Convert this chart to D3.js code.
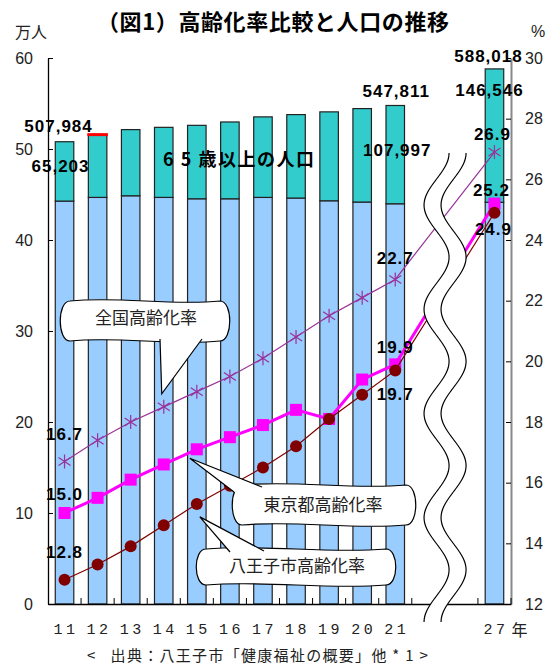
<!DOCTYPE html>
<html>
<head>
<meta charset="utf-8">
<script src="https://cdn.jsdelivr.net/npm/d3@7"></script>
<style>
  body { margin: 0; background: #fff; }
  svg { display: block; }
</style>
</head>
<body>
<svg id="chart" width="552" height="666"></svg>
<script>
// Fiscal years (Heisei) shown on the category axis; 22–26 are skipped by the break mark.
const years = ["11", "12", "13", "14", "15", "16", "17", "18", "19", "20", "21", "27"];
const gapSlots = ["gap1", "gap2"];

// Population of Hachioji (persons): total and aged 65+.
const totalPop   = [507984, 515800, 521300, 523800, 526000, 529700, 535300, 537800, 540800, 544400, 547811, 588018];
const elderlyPop = [65203, 69000, 72700, 77000, 80700, 84400, 88500, 91700, 97700, 102700, 107997, 146546];

// Ageing rates (%).
const nationalRate = [16.7, 17.4, 18.0, 18.5, 19.0, 19.5, 20.1, 20.8, 21.5, 22.1, 22.7, 26.9];
const tokyoRate    = [15.0, 15.5, 16.1, 16.6, 17.1, 17.5, 17.9, 18.4, 18.1, 19.4, 19.9, 25.2];
const hachiojiRate = [12.8, 13.3, 13.9, 14.6, 15.3, 15.9, 16.5, 17.2, 18.1, 18.9, 19.7, 24.9];

// Axis ticks.
const leftTicks  = [0, 10, 20, 30, 40, 50, 60];
const rightTicks = [12, 14, 16, 18, 20, 22, 24, 26, 28, 30];

const LATIN = "'Liberation Sans', Arial, sans-serif";
const CJK = "'Noto Sans CJK JP', 'Noto Sans', sans-serif";

const svg = d3.select("#chart");

const rows = years.map((yr, i) => ({
  yr,
  total: totalPop[i] / 1e4,
  elderly: elderlyPop[i] / 1e4,
  nat: nationalRate[i],
  tok: tokyoRate[i],
  hach: hachiojiRate[i],
  i
}));

const slots = [...years.slice(0, 11), ...gapSlots, years[11]];
const x = d3.scaleBand().domain(slots).range([48, 511]).paddingInner(0.44).paddingOuter(0.22);
const yL = d3.scaleLinear().domain([0, 60]).range([604, 58]);
const yR = d3.scaleLinear().domain([12, 30]).range([604, 58]);
const cx = yr => x(yr) + x.bandwidth() / 2;

// ---- stacked population bars ----
const gBars = svg.append("g");
gBars.selectAll("rect.under").data(rows).join("rect")
  .attr("class", "under")
  .attr("x", d => x(d.yr)).attr("width", x.bandwidth())
  .attr("y", d => yL(d.total - d.elderly))
  .attr("height", d => yL(0) - yL(d.total - d.elderly))
  .attr("fill", "#99CCFF").attr("stroke", "#222").attr("stroke-width", 1.2);
gBars.selectAll("rect.over").data(rows).join("rect")
  .attr("class", "over")
  .attr("x", d => x(d.yr)).attr("width", x.bandwidth())
  .attr("y", d => yL(d.total))
  .attr("height", d => yL(d.total - d.elderly) - yL(d.total))
  .attr("fill", "#33CCCC").attr("stroke", "#222").attr("stroke-width", 1.2);

// red accent on top of the second bar
gBars.append("line")
  .attr("x1", x(years[1]) - 1).attr("x2", x(years[1]) + x.bandwidth() + 1)
  .attr("y1", yL(rows[1].total)).attr("y2", yL(rows[1].total))
  .attr("stroke", "#FF0000").attr("stroke-width", 3);

// ---- axes ----
const axL = svg.append("g").attr("transform", "translate(48,0)")
  .call(d3.axisLeft(yL).tickValues(leftTicks).tickSize(-5).tickSizeOuter(0).tickPadding(15));
axL.select(".domain").attr("stroke", "#000").attr("stroke-width", 1.3);
axL.selectAll(".tick line").attr("stroke", "#000");
axL.selectAll("text").attr("font-family", LATIN).attr("font-size", 16).attr("fill", "#222");

const axR = svg.append("g").attr("transform", "translate(511,0)")
  .call(d3.axisRight(yR).tickValues(rightTicks).tickSize(-5).tickSizeOuter(0).tickPadding(14));
axR.select(".domain").attr("stroke", "#888").attr("stroke-width", 2);
axR.selectAll(".tick line").attr("stroke", "#000");
axR.selectAll("text").attr("font-family", LATIN).attr("font-size", 16).attr("fill", "#222");

// category axis: baseline, boundary ticks, year labels
const axB = svg.append("g").attr("transform", `translate(0,${yL(0)})`)
  .call(d3.axisBottom(x).tickValues(years).tickSize(0).tickPadding(19));
axB.select(".domain").attr("stroke", "#000").attr("stroke-width", 1.6);
axB.selectAll("text").attr("font-family", "'Liberation Mono', monospace")
  .attr("font-size", 15).attr("letter-spacing", 3.5).attr("dx", 1.5).attr("fill", "#222");
const bounds = d3.range(1, slots.length + 1).map(k => x.range()[0] + k * x.step());
svg.append("g").selectAll("line").data(bounds).join("line")
  .attr("x1", d => d).attr("x2", d => d)
  .attr("y1", yL(0)).attr("y2", yL(0) - 6)
  .attr("stroke", "#000").attr("stroke-width", 1);

svg.append("text").attr("x", cx("27") + 17).attr("y", yL(0) + 25)
  .attr("dominant-baseline", "central")
  .attr("font-family", CJK).attr("font-size", 16).attr("fill", "#222").text("年");

// ---- rate lines ----
const gLines = svg.append("g");
const mkLine = key => d3.line().x(d => cx(d.yr)).y(d => yR(d[key]));

gLines.append("path").datum(rows).attr("d", mkLine("nat"))
  .attr("fill", "none").attr("stroke", "#993399").attr("stroke-width", 1.2);
gLines.selectAll("path.star").data(rows).join("path")
  .attr("class", "star")
  .attr("transform", d => `translate(${cx(d.yr)},${yR(d.nat)})`)
  .attr("d", "M0,-7V7M-6,-4L6,4M-6,4L6,-4")
  .attr("stroke", "#993399").attr("stroke-width", 1.2).attr("fill", "none");

gLines.append("path").datum(rows).attr("d", mkLine("tok"))
  .attr("fill", "none").attr("stroke", "#FF00FF").attr("stroke-width", 3);
gLines.selectAll("rect.sq").data(rows).join("rect")
  .attr("class", "sq")
  .attr("x", d => cx(d.yr) - 6).attr("y", d => yR(d.tok) - 6)
  .attr("width", 12).attr("height", 12).attr("fill", "#FF00FF");

gLines.append("path").datum(rows).attr("d", mkLine("hach"))
  .attr("fill", "none").attr("stroke", "#800000").attr("stroke-width", 1.2);
gLines.selectAll("circle.dot").data(rows).join("circle")
  .attr("class", "dot")
  .attr("cx", d => cx(d.yr)).attr("cy", d => yR(d.hach)).attr("r", 6)
  .attr("fill", "#800000");

// ---- axis break (double wave) ----
const waveTop = 153, waveBot = 622, halfPeriod = 52.1, amp = 12.5;
const leftMid = (x.range()[0] + 12 * x.step()) - 8.3;
const gapW = 17;
const ys = d3.range(waveTop, waveBot + 0.1, 1);
const waveX = (mid, y) => mid + amp * Math.cos(Math.PI * (y - waveTop) / halfPeriod);
const leftPts = ys.map(y => [waveX(leftMid, y), y]);
const rightPts = ys.map(y => [waveX(leftMid + gapW, y), y]);
const gWave = svg.append("g");
gWave.append("path")
  .attr("d", d3.line()([...leftPts, ...rightPts.slice().reverse()]) + "Z")
  .attr("fill", "#fff").attr("stroke", "none");
[leftPts, rightPts].forEach(pts => {
  gWave.append("path").attr("d", d3.line().curve(d3.curveBasis)(pts))
    .attr("fill", "none").attr("stroke", "#000").attr("stroke-width", 1.2);
});

// ---- callouts ----
function bubblePath(x0, y0, x1, y1) {
  const w = x1 - x0, r = 10;
  return `M${x0 + r},${y0} C${x0 + w * 0.35},${y0 - 5} ${x0 + w * 0.65},${y0 + 5} ${x1 - r},${y0}` +
    ` C${x1 + 3},${y0} ${x1 + 3},${y1} ${x1 - r},${y1}` +
    ` C${x0 + w * 0.65},${y1 + 5} ${x0 + w * 0.35},${y1 - 5} ${x0 + r},${y1}` +
    ` C${x0 - 3},${y1} ${x0 - 3},${y0} ${x0 + r},${y0}Z`;
}
function callout(box, base1, base2, tip, label, tx, ty) {
  const g = svg.append("g");
  g.append("path").attr("d", bubblePath(...box))
    .attr("fill", "#fff").attr("stroke", "#000").attr("stroke-width", 1.2);
  g.append("path").attr("d", `M${base1[0]},${base1[1]}L${tip[0]},${tip[1]}L${base2[0]},${base2[1]}`)
    .attr("fill", "#fff").attr("stroke", "#000").attr("stroke-width", 1.2);
  g.append("text").attr("x", tx).attr("y", ty)
    .attr("text-anchor", "middle").attr("dominant-baseline", "central")
    .attr("font-family", CJK).attr("font-size", 17).attr("fill", "#222").text(label);
}
const p14 = rows[3], p15 = rows[4];
callout([60, 301, 230, 341], [160, 339], [202, 339],
  [cx(p14.yr) - 2, yR(p14.nat) - 13], "全国高齢化率", 146, 316);
callout([232, 485, 416, 525], [234, 492], [262, 487],
  [cx(p15.yr) - 7, yR(p15.tok) + 9], "東京都高齢化率", 323, 503);
callout([196, 549, 396, 585], [230, 552], [264, 551],
  [cx(p15.yr) + 3, yR(p15.hach) + 13], "八王子市高齢化率", 297, 564);

// ---- value labels ----
const fmt = d3.format(",");
const gLab = svg.append("g")
  .attr("font-family", LATIN).attr("font-weight", "bold").attr("font-size", 17)
  .attr("letter-spacing", 1).attr("fill", "#000")
  .attr("text-anchor", "middle").attr("dominant-baseline", "central");
const lab = (px, py, t) => gLab.append("text").attr("x", px).attr("y", py).text(t);

const r0 = rows[0], r10 = rows[10], r11 = rows[11];
lab(cx(r0.yr) - 6, yL(r0.total) - 15, fmt(totalPop[0]));
lab(cx(r0.yr) - 4, yL(r0.total) + 25, fmt(elderlyPop[0]));
lab(cx(r10.yr) + 1, yL(r10.total) - 14, fmt(totalPop[10]));
lab(cx(r10.yr) + 2, yL(r10.total) + 45, fmt(elderlyPop[10]));
lab(cx(r11.yr) - 6, yL(r11.total) - 12, fmt(totalPop[11]));
lab(cx(r11.yr) - 5, yL(r11.total) + 22, fmt(elderlyPop[11]));

const f1 = d3.format(".1f");
lab(cx(r0.yr), yR(r0.nat) - 27, f1(r0.nat));
lab(cx(r0.yr), yR(r0.tok) - 19, f1(r0.tok));
lab(cx(r0.yr), yR(r0.hach) - 27, f1(r0.hach));
lab(cx(r10.yr), yR(r10.nat) - 21, f1(r10.nat));
lab(cx(r10.yr), yR(r10.tok) - 17, f1(r10.tok));
lab(cx(r10.yr), yR(r10.hach) + 24, f1(r10.hach));
lab(cx(r11.yr) - 2, yR(r11.nat) - 18, f1(r11.nat));
lab(cx(r11.yr) - 3, yR(r11.tok) - 13, f1(r11.tok));
lab(cx(r11.yr) - 1, yR(r11.hach) + 17, f1(r11.hach));

// bar caption
svg.append("text").attr("x", 163).attr("y", 158)
  .attr("dominant-baseline", "central")
  .attr("font-family", CJK).attr("font-weight", "bold").attr("font-size", 18)
  .attr("letter-spacing", 1.5).attr("fill", "#000")
  .text("6 5 歳以上の人口");

// ---- titles and units ----
svg.append("text").attr("x", 97).attr("y", 20)
  .attr("dominant-baseline", "central")
  .attr("font-family", CJK).attr("font-weight", "bold").attr("font-size", 22)
  .attr("letter-spacing", 0.6).attr("fill", "#000")
  .text("（図1）高齢化率比較と人口の推移");

svg.append("text").attr("x", 15).attr("y", 31).attr("dominant-baseline", "central")
  .attr("font-family", CJK).attr("font-size", 16).attr("fill", "#222").text("万人");
svg.append("text").attr("x", 531).attr("y", 31).attr("dominant-baseline", "central")
  .attr("font-family", LATIN).attr("font-size", 16).attr("fill", "#222").text("%");

svg.append("text").attr("x", 87).attr("y", 654).attr("dominant-baseline", "central")
  .attr("xml:space", "preserve").style("white-space", "pre")
  .attr("font-family", CJK).attr("font-size", 15).attr("letter-spacing", 1.3).attr("fill", "#222")
  .text("<   出典：八王子市「健康福祉の概要」他 * 1 >");
</script>
</body>
</html>
